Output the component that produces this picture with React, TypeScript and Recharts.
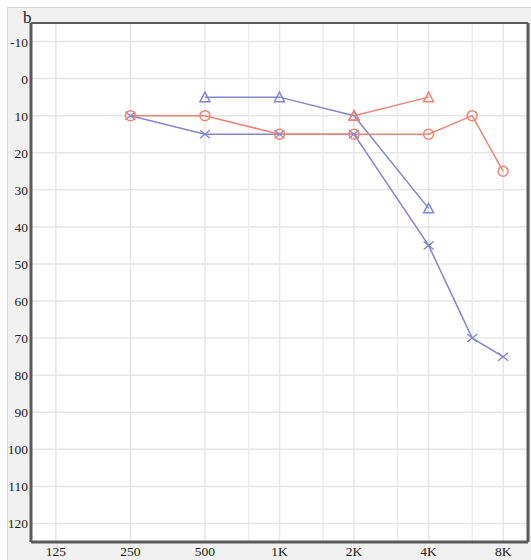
import React from 'react';
import { LineChart, Line, XAxis, YAxis, CartesianGrid, ReferenceLine } from 'recharts';

// frequencies (Hz) and their tick labels
const FREQS = [125, 250, 500, 1000, 2000, 4000, 8000];
const FREQ_LABELS = ['125', '250', '500', '1K', '2K', '4K', '8K'];
const MINOR_FREQS = [750, 1500, 3000, 6000];
const DB_TICKS = [-10, 0, 10, 20, 30, 40, 50, 60, 70, 80, 90, 100, 110, 120];

// right ear, air (circles)
const RIGHT_AIR_FREQS = [250, 500, 1000, 2000, 4000, 6000, 8000];
const RIGHT_AIR = [10, 10, 15, 15, 15, 10, 25];
// right ear, bone (triangles)
const RIGHT_BONE_FREQS = [2000, 4000];
const RIGHT_BONE = [10, 5];
// left ear, air (crosses)
const LEFT_AIR_FREQS = [250, 500, 1000, 2000, 4000, 6000, 8000];
const LEFT_AIR = [10, 15, 15, 15, 45, 70, 75];
// left ear, bone (triangles)
const LEFT_BONE_FREQS = [500, 1000, 2000, 4000];
const LEFT_BONE = [5, 5, 10, 35];

const RED = '#ef8574';
const BLUE = '#8585d0';
const GRID = '#e6e6e6';
const FRAME = '#5a5a5a';

const X_MIN = Math.log2(125) - 1 / 3;
const X_MAX = Math.log2(8000) + 1 / 3;
const Y_MIN = -15;
const Y_MAX = 125;

const toPoints = (freqs: number[], values: number[]) =>
    freqs.map((f, i) => ({ x: Math.log2(f), y: values[i] }));

const labelFor = (v: number) => {
    const i = FREQS.findIndex(f => Math.abs(Math.log2(f) - v) < 1e-6);
    return i >= 0 ? FREQ_LABELS[i] : '';
};

type Shape = 'circle' | 'triangle' | 'cross';

const makeDot = (shape: Shape, color: string) => (props: any) => {
    const { cx, cy, index } = props;
    if (cx == null || cy == null) return <g key={index} />;
    if (shape === 'circle') {
        return <circle key={index} cx={cx} cy={cy} r={5} fill="none" stroke={color} strokeWidth={1.5} />;
    }
    if (shape === 'triangle') {
        const d = `M${cx},${cy - 5} L${cx + 5},${cy + 4.5} L${cx - 5},${cy + 4.5} Z`;
        return <path key={index} d={d} fill="none" stroke={color} strokeWidth={1.5} />;
    }
    return (
        <path
            key={index}
            d={`M${cx - 5},${cy - 4} L${cx + 5},${cy + 4} M${cx + 5},${cy - 4} L${cx - 5},${cy + 4}`}
            stroke={color}
            strokeWidth={1.3}
        />
    );
};

const FONT = "'Liberation Serif', serif";

const XTick = (props: any) => {
    const { x, y, payload } = props;
    return (
        <text x={x} y={y + 10} textAnchor="middle" fill="#222" style={{ fontFamily: FONT, fontSize: 13.5 }}>
            {labelFor(payload.value)}
        </text>
    );
};

const YTick = (props: any) => {
    const { x, y, payload } = props;
    return (
        <text x={x} y={y + 5} textAnchor="end" fill="#222" style={{ fontFamily: FONT, fontSize: 13.5 }}>
            {payload.value}
        </text>
    );
};

export default function App() {
    return (
        <div
            style={{
                position: 'absolute',
                left: 7,
                top: 7,
                width: 524,
                height: 553,
                background: '#f1f1f1',
                borderTop: '1px solid #d6d6d6',
                borderLeft: '1px solid #d6d6d6',
                boxSizing: 'border-box',
                fontFamily: FONT,
            }}
        >
            <div style={{ position: 'absolute', left: 15, top: 0, fontSize: 17, color: '#222', lineHeight: '20px' }}>b</div>
            <LineChart
                width={523}
                height={552}
                margin={{ top: 15, right: 3, bottom: 0, left: 0 }}
                style={{ position: 'absolute', left: 0, top: 0 }}
            >
                <CartesianGrid stroke={GRID} strokeWidth={1.5} fill="#ffffff" fillOpacity={1} />
                {MINOR_FREQS.map(f => (
                    <ReferenceLine key={f} x={Math.log2(f)} stroke="#ececec" strokeWidth={1.5} />
                ))}
                <XAxis
                    type="number"
                    dataKey="x"
                    domain={[X_MIN, X_MAX]}
                    ticks={FREQS.map(f => Math.log2(f))}
                    interval={0}
                    allowDataOverflow
                    height={18}
                    tickSize={0}
                    tickMargin={4}
                    tick={<XTick />}
                    axisLine={{ stroke: FRAME, strokeWidth: 3 }}
                />
                <YAxis
                    type="number"
                    dataKey="y"
                    reversed
                    domain={[Y_MIN, Y_MAX]}
                    ticks={DB_TICKS}
                    interval={0}
                    allowDataOverflow
                    width={23}
                    tickSize={0}
                    tickMargin={3}
                    tick={<YTick />}
                    axisLine={{ stroke: FRAME, strokeWidth: 3 }}
                />
                <ReferenceLine y={Y_MIN} stroke={FRAME} strokeWidth={2} />
                <ReferenceLine x={X_MAX} stroke={FRAME} strokeWidth={3} />
                <Line
                    data={toPoints(LEFT_AIR_FREQS, LEFT_AIR)}
                    dataKey="y"
                    stroke={BLUE}
                    strokeWidth={1.5}
                    dot={makeDot('cross', BLUE)}
                    isAnimationActive={false}
                />
                <Line
                    data={toPoints(LEFT_BONE_FREQS, LEFT_BONE)}
                    dataKey="y"
                    stroke={BLUE}
                    strokeWidth={1.5}
                    dot={makeDot('triangle', BLUE)}
                    isAnimationActive={false}
                />
                <Line
                    data={toPoints(RIGHT_AIR_FREQS, RIGHT_AIR)}
                    dataKey="y"
                    stroke={RED}
                    strokeWidth={1.5}
                    dot={makeDot('circle', RED)}
                    isAnimationActive={false}
                />
                <Line
                    data={toPoints(RIGHT_BONE_FREQS, RIGHT_BONE)}
                    dataKey="y"
                    stroke={RED}
                    strokeWidth={1.5}
                    dot={makeDot('triangle', RED)}
                    isAnimationActive={false}
                />
            </LineChart>
        </div>
    );
}
